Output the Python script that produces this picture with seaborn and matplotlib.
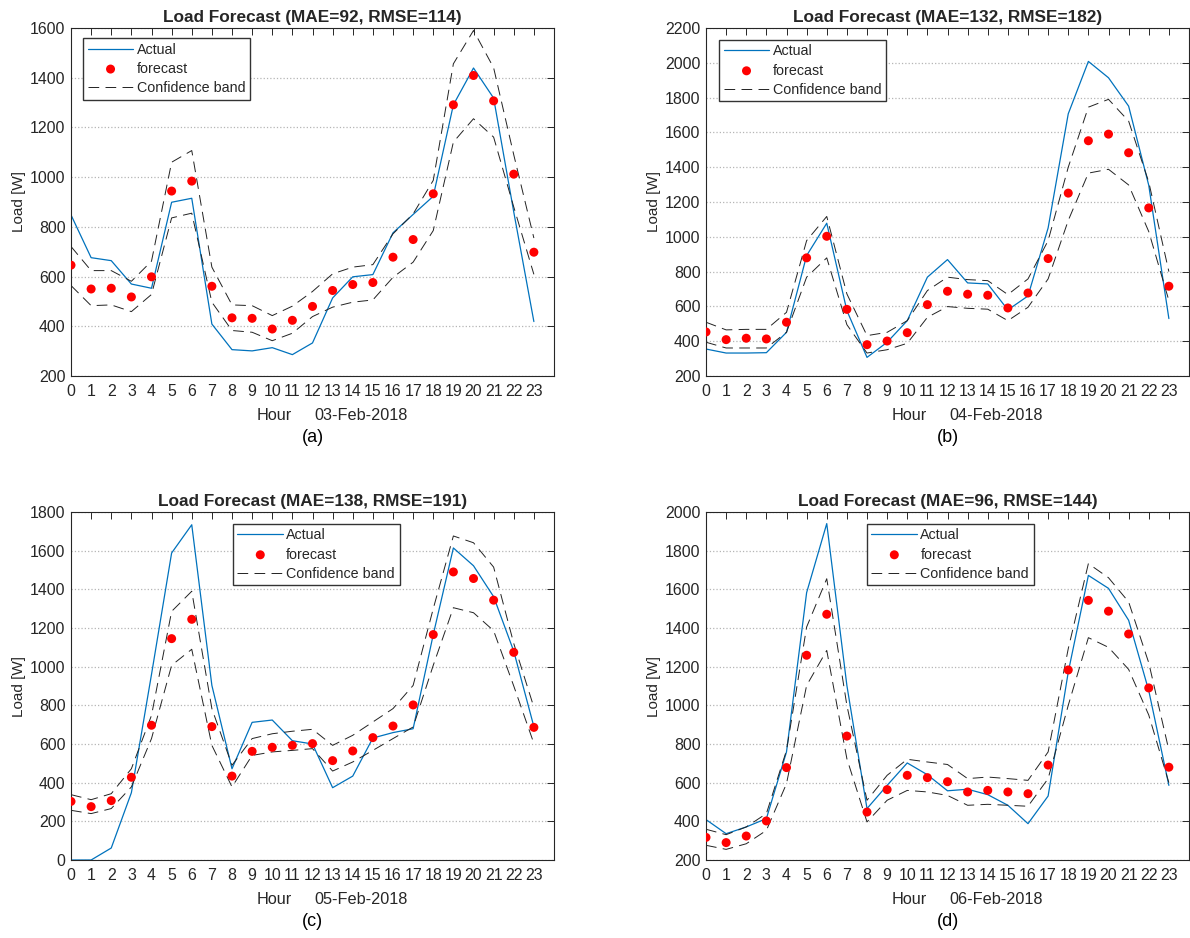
#################################################################################################
#   Required Header Files
#################################################################################################
import numpy as np
import pandas as pd
import matplotlib
matplotlib.use("Agg")
import matplotlib.pyplot as plt
import seaborn as sns

#################################################################################################
#   Chart Data
#################################################################################################
Hours = list(range(24))

Titles = ["Load Forecast (MAE=92, RMSE=114)", "Load Forecast (MAE=132, RMSE=182)",
          "Load Forecast (MAE=138, RMSE=191)", "Load Forecast (MAE=96, RMSE=144)"]
Dates = ["03-Feb-2018", "04-Feb-2018", "05-Feb-2018", "06-Feb-2018"]
Panel_Tags = ["(a)", "(b)", "(c)", "(d)"]

Actual_A = [848, 676, 664, 570, 553, 899, 915, 409, 306, 301, 314, 286,
            333, 514, 599, 608, 776, 850, 923, 1291, 1439, 1318, 860, 419]
Forecast_A = [646, 550, 553, 518, 599, 944, 984, 561, 434, 432, 389, 424,
              480, 544, 568, 576, 678, 749, 933, 1291, 1409, 1307, 1012, 698]
Upper_A = [721, 624, 624, 581, 662, 1060, 1107, 638, 486, 483, 443, 481,
           540, 611, 638, 648, 772, 852, 987, 1456, 1590, 1440, 1090, 755]
Lower_A = [564, 483, 486, 459, 528, 836, 855, 497, 383, 376, 342, 372,
           439, 477, 497, 506, 597, 658, 785, 1141, 1235, 1161, 880, 609]

Actual_B = [355, 332, 332, 334, 451, 892, 1078, 576, 307, 394, 518, 768,
            869, 735, 729, 580, 660, 1051, 1707, 2008, 1914, 1751, 1296, 530]
Forecast_B = [453, 409, 417, 413, 509, 879, 1003, 583, 380, 401, 449, 610,
              687, 670, 664, 591, 677, 875, 1251, 1552, 1590, 1483, 1166, 716]
Upper_B = [509, 465, 468, 468, 566, 978, 1117, 672, 432, 451, 518, 691,
           768, 754, 748, 668, 758, 978, 1400, 1745, 1790, 1665, 1315, 800]
Lower_B = [394, 361, 361, 361, 451, 768, 879, 495, 332, 351, 388, 537,
           599, 589, 584, 518, 595, 758, 1094, 1366, 1388, 1298, 1030, 634]

Actual_C = [0, 0, 62, 348, 960, 1588, 1734, 903, 472, 712, 724, 617,
            600, 374, 434, 631, 659, 679, 1166, 1614, 1522, 1362, 1080, 690]
Forecast_C = [303, 276, 307, 428, 697, 1145, 1245, 690, 434, 562, 583, 593,
              602, 514, 564, 633, 693, 802, 1166, 1490, 1456, 1344, 1074, 686]
Upper_C = [338, 312, 343, 472, 748, 1286, 1390, 783, 490, 628, 653, 666,
           676, 593, 645, 714, 783, 903, 1300, 1676, 1641, 1515, 1120, 790]
Lower_C = [257, 240, 266, 378, 628, 1007, 1090, 593, 378, 541, 559, 567,
           576, 460, 507, 567, 628, 688, 1007, 1305, 1279, 1186, 900, 603]

Actual_D = [409, 336, 371, 414, 759, 1583, 1940, 1103, 466, 586, 702, 641,
            558, 566, 538, 483, 388, 531, 1172, 1672, 1605, 1440, 1076, 586]
Forecast_D = [317, 290, 324, 402, 678, 1259, 1471, 841, 448, 564, 638, 626,
              605, 552, 560, 552, 543, 691, 1183, 1543, 1487, 1369, 1090, 680]
Upper_D = [359, 331, 371, 440, 767, 1405, 1655, 1000, 509, 638, 721, 707,
           694, 621, 629, 621, 612, 759, 1293, 1733, 1660, 1535, 1220, 768]
Lower_D = [276, 255, 284, 353, 595, 1103, 1284, 724, 397, 509, 560, 552,
           534, 483, 488, 483, 478, 621, 1000, 1350, 1300, 1186, 950, 600]

Y_Limits = [(200, 1600), (200, 2200), (0, 1800), (200, 2000)]
Legend_Anchor = [(0.025, 0.971), (0.027, 0.966), (0.335, 0.966), (0.333, 0.966)]


#################################################################################################
#   One panel
#################################################################################################
def draw_panel(ax, df, title, date, tag, ylim, anchor):
    band_style = (0, (11, 6.5))

    sns.lineplot(data=df, x="Hour", y="Actual", ax=ax, color="#0072BD",
                 linewidth=0.9, label="Actual")
    sns.scatterplot(data=df, x="Hour", y="Forecast", ax=ax, color="red",
                    s=42, edgecolor="none", label="forecast", zorder=3)
    sns.lineplot(data=df, x="Hour", y="Upper", ax=ax, color="#222222",
                 linewidth=0.7, linestyle=band_style, label="Confidence band")
    sns.lineplot(data=df, x="Hour", y="Lower", ax=ax, color="#222222",
                 linewidth=0.7, linestyle=band_style, label="_nolegend_")

    ax.set_xlim(0, 24)
    ax.set_ylim(*ylim)
    ax.set_xticks(Hours)
    ax.set_yticks(np.arange(ylim[0], ylim[1] + 1, 200))

    ax.yaxis.grid(True, linestyle=":", color="#b5b5b5", linewidth=0.9)
    ax.xaxis.grid(False)
    ax.set_axisbelow(True)

    for spine in ax.spines.values():
        spine.set_visible(True)
        spine.set_color("#262626")
        spine.set_linewidth(0.8)

    ax.tick_params(direction="in", top=True, right=True, length=5, width=0.7,
                   labelsize=11.4, colors="#262626")
    ax.tick_params(axis="x", pad=6)
    ax.tick_params(axis="y", pad=4)

    ax.set_title(title, fontsize=12.4, fontweight="bold", pad=4)
    ax.set_ylabel("Load [W]", fontsize=11, labelpad=3)
    ax.set_xlabel("")
    ax.text(0.42, -0.113, "Hour", transform=ax.transAxes, ha="center", va="center",
            fontsize=11.7, color="#262626")
    ax.text(0.60, -0.113, date, transform=ax.transAxes, ha="center", va="center",
            fontsize=11.7, color="#262626")
    ax.text(0.5, -0.177, tag, transform=ax.transAxes, ha="center", va="center",
            fontsize=13, color="black")

    handles, labels = ax.get_legend_handles_labels()
    order = [labels.index("Actual"), labels.index("forecast"), labels.index("Confidence band")]
    leg = ax.legend([handles[i] for i in order], [labels[i] for i in order],
                    loc="upper left", bbox_to_anchor=anchor, fontsize=10.3,
                    frameon=True, fancybox=False, framealpha=1, edgecolor="#333333",
                    handlelength=3.2, handletextpad=0.22, labelspacing=0.36,
                    borderpad=0.32, borderaxespad=0)
    leg.get_frame().set_linewidth(1.0)


#################################################################################################
#   Entry Point Function
#################################################################################################
def main():
    sns.set_style("white")
    plt.rcParams["font.family"] = ["Liberation Sans", "DejaVu Sans"]

    Panels = [
        pd.DataFrame({"Hour": Hours, "Actual": Actual_A, "Forecast": Forecast_A,
                      "Upper": Upper_A, "Lower": Lower_A}),
        pd.DataFrame({"Hour": Hours, "Actual": Actual_B, "Forecast": Forecast_B,
                      "Upper": Upper_B, "Lower": Lower_B}),
        pd.DataFrame({"Hour": Hours, "Actual": Actual_C, "Forecast": Forecast_C,
                      "Upper": Upper_C, "Lower": Lower_C}),
        pd.DataFrame({"Hour": Hours, "Actual": Actual_D, "Forecast": Forecast_D,
                      "Upper": Upper_D, "Lower": Lower_D}),
    ]

    fig = plt.figure(figsize=(11.9, 9.38), dpi=100)

    # axes boxes in figure fractions: left, bottom, width, height
    Boxes = [
        [71 / 1190, 1 - 376 / 938, 483 / 1190, 348 / 938],
        [706 / 1190, 1 - 376 / 938, 483 / 1190, 348 / 938],
        [71 / 1190, 1 - 860 / 938, 483 / 1190, 348 / 938],
        [706 / 1190, 1 - 860 / 938, 483 / 1190, 348 / 938],
    ]

    for i in range(4):
        ax = fig.add_axes(Boxes[i])
        draw_panel(ax, Panels[i], Titles[i], Dates[i], Panel_Tags[i], Y_Limits[i], Legend_Anchor[i])

    fig.savefig("out.png", dpi=100, facecolor="white")
    print("Figure saved to out.png")


#################################################################################################
#   Starter
#################################################################################################
if __name__ == "__main__":
    main()
